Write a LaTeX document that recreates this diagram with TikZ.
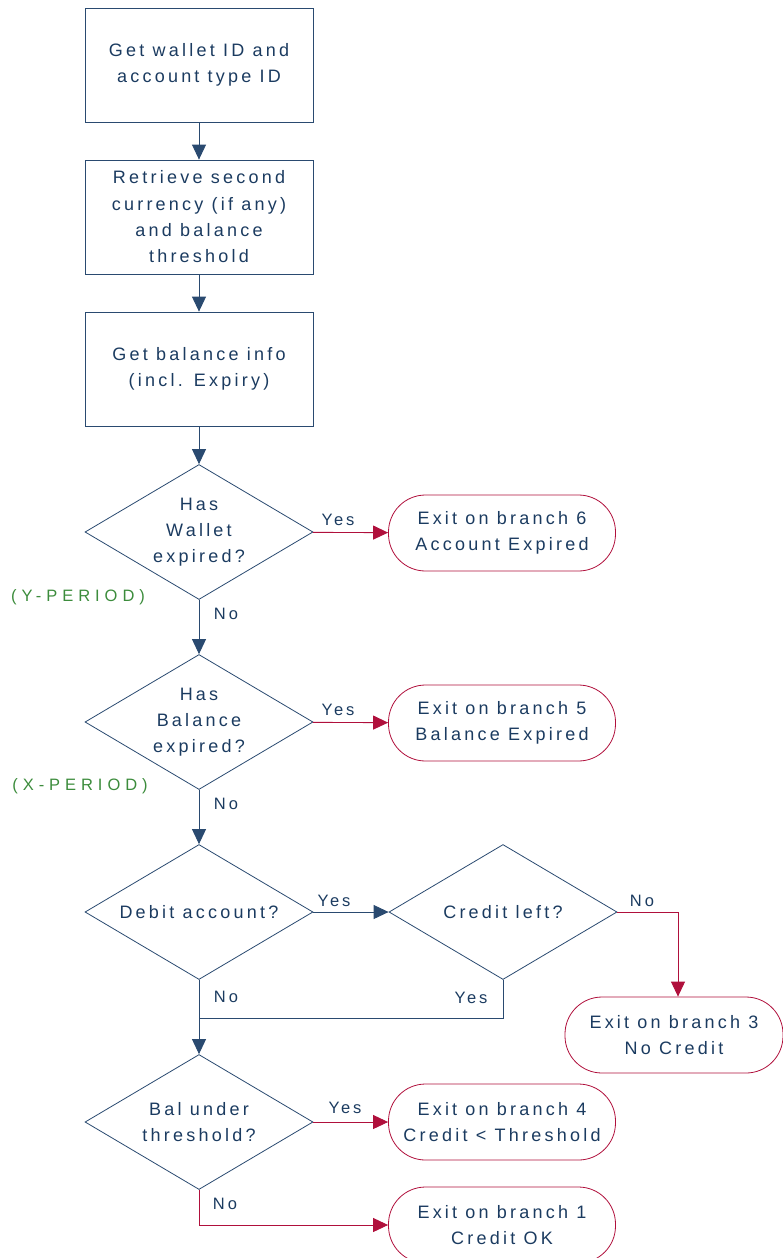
\documentclass[tikz,border=0pt]{standalone}
\usepackage{fontspec}
\setmainfont{Liberation Sans}[LetterSpace=18]
\usetikzlibrary{arrows.meta,positioning,shapes.geometric}
\definecolor{textnavy}{HTML}{1B3B60}
\definecolor{linenavy}{HTML}{2A4A70}
\definecolor{exitred}{HTML}{B0103C}
\definecolor{periodgreen}{HTML}{3C8C3C}
\newcommand\flowfont{\fontsize{18}{26.3}\selectfont}
\newcommand\tagfont{\fontsize{16.5}{20}\selectfont}

\begin{document}
\begin{tikzpicture}[
  x=1pt, y=-1pt,
  stepbox/.style={draw=linenavy, line width=0.8pt, minimum width=228pt, minimum height=114pt, inner sep=0pt, align=center, text=textnavy, font=\flowfont},
  decision/.style={draw=linenavy, line width=0.8pt, shape=diamond, minimum width=228pt, minimum height=135pt, inner sep=0pt},
  asks/.style={align=center, text=textnavy, font=\flowfont},
  exitpill/.style={draw=exitred, line width=0.8pt, rounded corners=37pt, minimum width=227pt, minimum height=76pt, inner sep=0pt, align=center, text=textnavy, font=\flowfont},
  tag/.style={text=textnavy, font=\tagfont, inner sep=0pt},
  period/.style={text=periodgreen, font=\tagfont\addfontfeature{LetterSpace=30}, inner sep=0pt},
  flow/.style={-{Triangle[length=15pt, width=14pt]}, draw=linenavy, line width=0.9pt},
  exitflow/.style={-{Triangle[length=15pt, width=14pt]}, draw=exitred, line width=0.9pt}
]
  \useasboundingbox (0,0) rectangle (783,1258);

  % main column
  \node[stepbox] (getids) at (199,65) {Get wallet ID and\\account type ID};
  \node[stepbox] (retrieve) at (199,217) {Retrieve second\\currency (if any)\\and balance\\threshold};
  \node[stepbox] (balinfo) at (199,369) {Get balance info\\(incl. Expiry)};
  \node[decision, label={[asks]center:Has\\Wallet\\expired?}] (walletexp) at (199,532) {};
  \node[decision, label={[asks]center:Has\\Balance\\expired?}] (balexp) at (199,722) {};
  \node[decision, label={[asks]center:Debit account?}] (debit) at (199,912) {};
  \node[decision, label={[asks]center:Credit left?}] (creditleft) at (503,912) {};
  \node[decision, label={[asks]center:Bal under\\threshold?}] (underthr) at (199,1122) {};

  % exits
  \node[exitpill] (exit6) at (502,533) {Exit on branch 6\\Account Expired};
  \node[exitpill] (exit5) at (502,723) {Exit on branch 5\\Balance Expired};
  \node[exitpill, minimum width=218pt] (exit3) at (674,1035) {Exit on branch 3\\No Credit};
  \node[exitpill] (exit4) at (502,1122) {Exit on branch 4\\Credit < Threshold};
  \node[exitpill] (exit1) at (502,1225) {Exit on branch 1\\Credit OK};

  \coordinate (rejoin) at (199,1018);

  % connectors
  \draw[flow] (getids) -- (retrieve);
  \draw[flow] (retrieve) -- (balinfo);
  \draw[flow] (balinfo) -- (walletexp);
  \draw[flow] (walletexp) -- (balexp);
  \draw[flow] (balexp) -- (debit);
  \draw[flow] (debit) -- (creditleft);
  \draw[flow] (debit) -- (underthr);
  \draw[draw=linenavy, line width=0.9pt] (creditleft.south) |- (rejoin);
  \draw[exitflow] (walletexp) -- (exit6);
  \draw[exitflow] (balexp) -- (exit5);
  \draw[exitflow] (creditleft.east) -| ([xshift=4pt]exit3.north);
  \draw[exitflow] (underthr) -- (exit4);
  \draw[exitflow] (underthr.south) |- (exit1.west);

  % branch labels
  \node[tag] (yes6) at (338,520) {Yes};
  \node[tag] (no6) at (226,614) {No};
  \node[period] (yperiod) at (78,597) {(Y-PERIOD)};
  \node[tag] (yes5) at (338,710) {Yes};
  \node[tag] (no5) at (226,804) {No};
  \node[period] (xperiod) at (80,786) {(X-PERIOD)};
  \node[tag] (yesdebit) at (334,901) {Yes};
  \node[tag] (nocredit) at (642,901) {No};
  \node[tag] (nodebit) at (226,997) {No};
  \node[tag] (yescredit) at (471,998) {Yes};
  \node[tag] (yes4) at (345,1108) {Yes};
  \node[tag] (no1) at (225,1204) {No};
\end{tikzpicture}
\end{document}
